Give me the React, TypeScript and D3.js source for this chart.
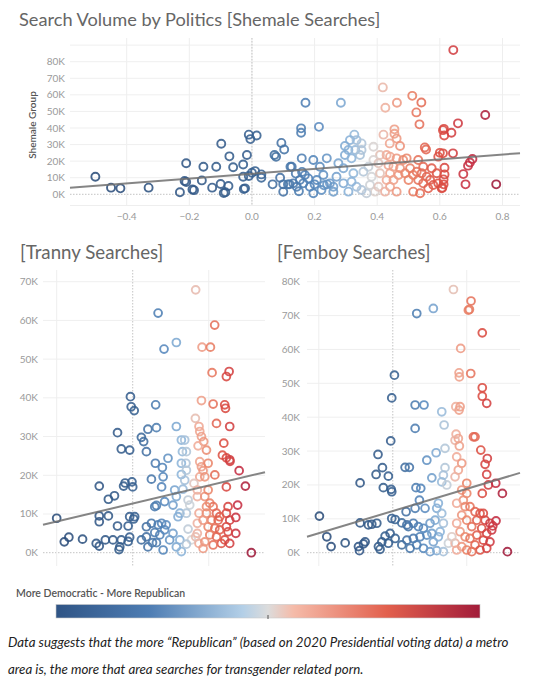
import React from 'react';
import * as d3 from 'd3';

// ---------- DATA ----------
// [partisan lean (x), search volume in thousands (y)]
const shemalePoints: [number, number][] = [
  [-0.50,10.6],[-0.45,4],[-0.42,3.6],[-0.33,4],[-0.21,18.7],[-0.215,8],[-0.21,7.4],[-0.23,1.2],[-0.19,2.9],[-0.185,2.5],
  [-0.16,8.4],[-0.155,16.6],[-0.127,4],[-0.114,16.6],[-0.098,30.5],[-0.1,6.2],[-0.09,0.8],[-0.085,1.2],[-0.072,22.9],[-0.075,5],
  [-0.06,16.3],[-0.028,18],[-0.016,23.7],[-0.028,10.6],[-0.026,3.2],[-0.022,3.6],[-0.01,36],[-0.005,33.3],[0.015,35.5],[0.0,13],
  [0.01,14],[0.03,12],[0.03,10],[-0.01,11],[0.066,6],[0.072,23.7],[0.077,22.6],[0.094,31],[0.103,27],[0.123,16.6],
  [0.09,10],[0.1,6],[0.1,1.5],[0.115,6],[0.12,6],[0.171,55.2],[0.284,55.2],[0.157,39.8],[0.157,37.1],[0.214,40.7],
  [0.643,87],[0.418,64.5],[0.426,52.2],[0.463,55.2],[0.512,59.4],[0.541,55.4],[0.525,49.4],[0.535,42.2],[0.745,47.8],[0.658,42.8],
  [0.613,39.5],[0.61,38.7],[0.614,35.5],[0.637,37.1],[0.42,36],[0.455,39.2],[0.455,36.5],[0.462,33.6],[0.473,29.1],[0.44,30.7],
  [0.552,28.3],[0.556,27],[0.6,25],[0.61,24.7],[0.595,22.7],[0.642,24.7],[0.704,21.3],[0.696,19.2],[0.69,17.3],[0.675,12.2],
  [0.682,6],[0.78,6],[0.615,16],[0.615,12],[0.612,9],[0.612,6],[0.608,4],
  [0.327,36],[0.313,32.7],[0.334,32.7],[0.35,30.7],[0.297,29.1],[0.308,26.7],[0.33,26.7],[0.35,26.7],[0.345,23.7],[0.297,23.7],[0.318,21.7],
  [0.388,28.7],[0.409,23.7],[0.388,20.7],[0.404,18.7],[0.372,16.6],[0.356,13.6],[0.382,10.6],[0.377,5.6],[0.393,1.6],[0.366,0.6],
  [0.43,23.7],[0.441,22.7],[0.462,21.7],[0.483,20.7],[0.494,21.7],[0.436,17.6],[0.452,16.6],[0.473,15.7],[0.441,12.7],[0.468,11.6],
  [0.489,12.7],[0.43,8.6],[0.452,8.6],[0.441,4.6],[0.462,1.6],[0.409,12.7],[0.404,4.6],[0.425,1.6],
  [0.505,15.7],[0.526,13.6],[0.542,12.7],[0.558,10.6],[0.569,8.6],[0.531,8.6],[0.547,6.6],[0.579,5.6],[0.563,3.6],[0.515,1.6],
  [0.537,0.6],[0.59,12.7],[0.595,6.6],[0.606,3.6],[0.515,11.6],[0.5,8.6],[0.547,16.6],[0.574,15.7],[0.531,20.7],
  [0.127,16.6],[0.159,21.7],[0.169,11.6],[0.153,8.6],[0.143,4.6],[0.185,4.6],[0.196,20.7],[0.217,16.6],[0.228,11.6],[0.239,21.7],
  [0.249,6.6],[0.26,4.6],[0.222,2.6],[0.196,0.6],[0.276,18.7],[0.27,10.6],[0.292,6.6],[0.308,1.6],[0.324,12.7],[0.334,4.6],
  [0.35,2.6],[0.318,7.6],[0.132,6.6],[0.164,6.6],[0.18,9.6],[0.207,8.6],[0.292,15.7],[0.14,12.5],[0.16,13.5],[0.15,1.8],
  [0.24,6],[0.2,6],[0.23,5.5],[0.26,1.5],
];

const trannyPoints: [number, number][] = [
  [-0.50,8.9],[-0.45,2.8],[-0.42,4],[-0.33,3.5],[-0.22,17.2],[-0.22,9.5],[-0.22,8],[-0.24,2.4],[-0.22,1.7],[-0.18,3.3],
  [-0.13,3.3],[-0.16,9.5],[-0.16,13.8],[-0.12,14.7],[-0.10,31],[-0.075,26.8],[-0.02,26.5],[-0.06,17.2],[-0.05,18],[-0.005,18.3],
  [0.0,17],[-0.1,6.9],[-0.085,1.5],[-0.09,0.8],[-0.075,3.3],[-0.03,6.9],[-0.02,9.3],[-0.02,4],[-0.03,2.9],[-0.015,40.3],
  [-0.01,37.7],[0.01,36.7],[0.013,9.3],[0.006,8.7],
  [0.057,29.8],[0.072,28.7],[0.1,31.9],[0.09,26.1],[0.057,3.3],[0.09,4.1],[0.123,7.6],[0.09,6.7],[0.123,19],[0.1,1.5],
  [0.151,38.2],[0.156,32.3],[0.167,61.9],[0.149,23.1],[0.145,11.9],[0.156,12.2],[0.145,5.2],[0.156,2.6],[0.13,2.6],[0.19,17],
  [0.2,19.6],[0.195,22],[0.206,52.6],[0.232,24.4],[0.21,13.2],[0.19,7.6],[0.22,7.2],[0.178,4.6],[0.21,5.9],[0.243,3.3],
  [0.2,0.7],[0.167,7.2],
  [0.287,32.6],[0.287,54.3],[0.265,12.3],[0.276,16.2],[0.287,14.5],[0.298,9.3],[0.31,10.2],[0.287,1.5],[0.32,0.3],[0.265,5],
  [0.31,3.3],[0.32,29.1],[0.327,26.1],[0.32,23.1],[0.32,20.2],[0.342,29.1],[0.353,26.1],[0.35,23.1],[0.353,21.3],[0.342,18.7],
  [0.33,16.4],[0.364,13.6],[0.375,12.3],[0.353,10.2],[0.364,6.1],[0.386,3.3],[0.353,2.2],
  [0.414,67.9],[0.412,34.7],[0.436,32.6],[0.441,31.3],[0.452,30],[0.467,28.7],[0.452,39.3],[0.456,53.1],[0.511,53.1],[0.43,27.6],
  [0.441,23.5],[0.452,22.2],[0.463,21.2],[0.441,19.6],[0.474,19.6],[0.403,17.9],[0.425,16.2],[0.425,14.5],[0.436,10.2],[0.425,7.6],
  [0.425,5],[0.436,2.4],[0.414,4.1],[0.485,26.5],[0.496,23.1],
  [0.539,58.8],[0.522,46.5],[0.529,38.4],[0.551,33.4],[0.605,38.2],[0.61,37.3],[0.616,45.5],[0.634,46.8],[0.638,32.6],[0.599,28.3],
  [0.59,25.2],[0.616,24.5],[0.638,24],[0.64,23.6],[0.54,20.1],[0.616,17],[0.7,21.2],[0.741,17.2],[0.69,12.3],[0.678,9.1],
  [0.678,5],[0.78,0],[0.627,11.9],[0.616,10.2],[0.638,8.4],[0.616,6.7],[0.627,5.4],[0.605,3.3],[0.583,2.4],[0.638,2.4],
  [0.474,14.5],[0.496,16.2],[0.507,12.8],[0.529,11.9],[0.551,10.2],[0.485,10.2],[0.518,8.4],[0.562,8.4],[0.496,6.7],[0.54,6.3],
  [0.572,5.9],[0.507,4.6],[0.551,4.1],[0.474,2.8],[0.529,2],[0.463,1.1],[0.572,9.3],[0.463,8.4],[0.485,11.9],
];

const femboyPoints: [number, number][] = [
  [-0.496,10.8],[-0.446,4.7],[-0.417,1.8],[-0.322,2.9],[-0.221,20.6],[-0.221,8.8],[-0.165,8.2],[-0.142,8.4],[-0.108,8.7],[-0.232,1.8],
  [-0.225,0.6],[-0.187,3.2],[-0.198,2.6],[-0.1,29],[-0.07,25.1],[-0.113,23.1],[-0.03,22.6],[-0.064,19.2],[-0.014,33],[-0.007,45.7],
  [0.011,52.4],[-0.011,18.7],[-0.007,18],[-0.097,1.8],[-0.086,1],[-0.074,3.2],[-0.052,4.9],[-0.018,5.7],[-0.03,2.8],[0.016,4.2],
  [-0.007,10.1],[0.016,9.8],[0.061,8.8],[0.095,8.2],[0.061,2.3],
  [0.083,25.2],[0.112,25.2],[0.09,12.1],[0.151,36.7],[0.151,43.6],[0.211,43.6],[0.162,70.6],[0.157,19.2],[0.189,19],[0.18,15.5],
  [0.151,13.1],[0.218,13.1],[0.23,27.3],[0.274,72.1],[0.293,29.5],[0.264,22.1],[0.331,41.6],[0.347,37.7],[0.353,30.8],[0.353,25.1],
  [0.342,22.9],[0.331,20.9],[0.365,20],
  [0.105,7.7],[0.139,8.7],[0.173,7.7],[0.207,7.2],[0.252,8.7],[0.286,9.6],[0.297,13.1],[0.308,14.6],[0.331,11.6],[0.342,8.7],
  [0.23,5.2],[0.184,4.7],[0.139,4.2],[0.095,3.7],[0.274,3.2],[0.308,4.7],[0.207,1.3],[0.252,0.3],[0.297,0.6],[0.162,2.3],
  [0.117,1.3],[0.342,0.3],[0.376,2.8],[0.32,6.2],[0.264,5.7],
  [0.41,77.7],[0.459,60.3],[0.448,53.1],[0.45,51.9],[0.426,43.1],[0.455,43.1],[0.448,42.1],[0.428,35],[0.443,33.7],[0.421,33.2],
  [0.45,31.5],[0.432,28.3],[0.466,26.4],[0.443,24.4],[0.421,22.4],[0.5,20.5],[0.466,18.5],[0.5,17.5],[0.477,15.5],[0.432,14.6],
  [0.489,13.6],[0.466,11.1],[0.5,9.6],[0.432,8.7],[0.455,6.2],[0.489,4.7],[0.421,2.8],[0.466,1.8],[0.5,0.8],[0.399,4.7],
  [0.432,0.8],
  [0.529,74.3],[0.518,71.8],[0.511,71.6],[0.605,64.9],[0.527,52.9],[0.605,48.7],[0.605,46.2],[0.635,44.1],[0.545,34.2],[0.556,34.2],
  [0.595,30.3],[0.639,27.8],[0.624,26.1],[0.635,23.1],[0.646,20],[0.605,17.5],[0.696,20.5],[0.741,17.5],[0.698,9.4],[0.676,7.9],
  [0.669,6.7],[0.775,0.3],
  [0.522,13.6],[0.556,12.1],[0.59,11.6],[0.624,9.6],[0.568,9.6],[0.534,7.7],[0.601,7.2],[0.635,5.7],[0.568,5.2],[0.522,4.2],
  [0.612,3.7],[0.657,3.2],[0.556,2.3],[0.59,0.8],[0.635,1.3],[0.534,0.3],[0.657,8.7],[0.612,11.6],
];

// trend lines: value(K) = intercept + slope * lean
const trendIntercepts = [12.4, 12.7, 12.3];
const trendSlopes = [14.5, 9.3, 13.1];

const topXTicks = [-0.4, -0.2, 0.0, 0.2, 0.4, 0.6, 0.8];
const topYTicks = [0, 10, 20, 30, 40, 50, 60, 70, 80];
const trannyYTicks = [0, 10, 20, 30, 40, 50, 60, 70];
const femboyYTicks = [0, 10, 20, 30, 40, 50, 60, 70, 80];
const smallXGrid = [-0.5, 0.5];

const titles = ['Search Volume by Politics [Shemale Searches]', '[Tranny Searches]', '[Femboy Searches]'];
const yAxisTitle = 'Shemale Group';
const legendTitle = 'More Democratic - More Republican';
const captionLines = [
  'Data suggests that the more \u201CRepublican\u201D (based on 2020 Presidential voting data) a metro',
  'area is, the more that area searches for transgender related porn.',
];

// ---------- STYLE ----------
const FONT = 'Lato, "Open Sans", sans-serif';
const colorDomain = [-0.5, 0.0, 0.2, 0.32, 0.385, 0.43, 0.5, 0.6, 0.7, 0.78];
const colorRange = ['#2b4d7a', '#37608f', '#5486bb', '#8db5da', '#d6d6d6', '#f0ac99', '#ea8468', '#dc4e42', '#c42c42', '#9e1a3a'];
const color = d3.scaleLinear<string>().domain(colorDomain).range(colorRange).clamp(true);

type PanelProps = {
  points: [number, number][];
  x: d3.ScaleLinear<number, number>;
  y: d3.ScaleLinear<number, number>;
  yTicks: number[];
  xGrid: number[];
  gridTop: number;
  gridBottom: number;
  labelX: number;
  r: number;
  trendIdx: number;
};

function Panel({ points, x, y, yTicks, xGrid, gridTop, gridBottom, labelX, r, trendIdx }: PanelProps) {
  const [x0, x1] = x.range();
  const [d0, d1] = x.domain();
  const line = d3.line<number>().x((v) => x(v)).y((v) => y(trendIntercepts[trendIdx] + trendSlopes[trendIdx] * v));
  return (
    <g>
      {yTicks.map((t) => (
        <line key={'h' + t} x1={x0} x2={x1} y1={y(t)} y2={y(t)}
          stroke={t === 0 ? '#c4c4c4' : '#efefef'} strokeWidth={1}
          strokeDasharray={t === 0 ? '1.5,1.5' : undefined} />
      ))}
      {xGrid.map((t) => (
        <line key={'v' + t} x1={x(t)} x2={x(t)} y1={gridTop} y2={gridBottom} stroke="#eeeeee" strokeWidth={1} />
      ))}
      <line x1={x(0)} x2={x(0)} y1={gridTop} y2={gridBottom} stroke="#c4c4c4" strokeWidth={1} strokeDasharray="1.5,1.5" />
      {yTicks.map((t) => (
        <text key={'l' + t} x={labelX} y={y(t)} dy="0.35em" textAnchor="end" fontSize={10}
          fill="#9a9a9a" fontFamily={FONT}>{t + 'K'}</text>
      ))}
      {points.map(([lean, vol], i) => (
        <circle key={i} cx={x(lean)} cy={y(vol)} r={r} fill="none" stroke={color(lean)}
          strokeWidth={1.9} strokeOpacity={0.88} />
      ))}
      <path d={line([d0, d1]) || ''} stroke="#707070" strokeOpacity={0.85} strokeWidth={2} fill="none" />
    </g>
  );
}

export default function App() {
  const xTop = d3.scaleLinear().domain([-0.581, 0.856]).range([70, 520]);
  const yTop = d3.scaleLinear().domain([0, 80]).range([194.3, 61.7]);
  const xL = d3.scaleLinear().domain([-0.59, 0.87]).range([43, 265]);
  const yL = d3.scaleLinear().domain([0, 70]).range([552.7, 281.7]);
  const xR = d3.scaleLinear().domain([-0.58, 0.86]).range([307, 520]);
  const yR = d3.scaleLinear().domain([0, 80]).range([552.7, 281.7]);

  return (
    <div style={{ position: 'absolute', left: 0, top: 0 }}>
      <svg width={540} height={688} style={{ display: 'block', background: '#fff' }}>
        <defs>
          <linearGradient id="legendGrad" x1="0" x2="1" y1="0" y2="0">
            <stop offset="0" stopColor="#2f5485" />
            <stop offset="0.22" stopColor="#4e7db3" />
            <stop offset="0.44" stopColor="#b3cfe7" />
            <stop offset="0.5" stopColor="#dcdcdc" />
            <stop offset="0.56" stopColor="#f5bba9" />
            <stop offset="0.78" stopColor="#e2604d" />
            <stop offset="1" stopColor="#a21c3a" />
          </linearGradient>
        </defs>

        {/* Top chart */}
        <text x={19} y={25.5} fontSize={18.2} fill="#666" fontFamily={FONT}>{titles[0]}</text>
        <text transform="translate(36,125) rotate(-90)" textAnchor="middle" fontSize={10} fontWeight={600}
          fill="#555" fontFamily={FONT}>{yAxisTitle}</text>
        {topXTicks.map((t) => (
          <line key={'tg' + t} x1={xTop(t)} x2={xTop(t)} y1={38} y2={205} stroke="#eeeeee" />
        ))}
        <line x1={70} x2={520} y1={205.5} y2={205.5} stroke="#eeeeee" />
        <line x1={70} x2={520} y1={yTop(90)} y2={yTop(90)} stroke="#efefef" />
        <Panel points={shemalePoints} x={xTop} y={yTop} yTicks={topYTicks} xGrid={[]} gridTop={38} gridBottom={205}
          labelX={65} r={4} trendIdx={0} />
        {topXTicks.map((t) => (
          <text key={'tx' + t} x={xTop(t)} y={220} textAnchor="middle" fontSize={10} fill="#9a9a9a"
            fontFamily={FONT}>{d3.format('.1f')(t)}</text>
        ))}

        {/* Bottom left */}
        <text x={20} y={259} fontSize={18.7} fill="#666" fontFamily={FONT}>{titles[1]}</text>
        <Panel points={trannyPoints} x={xL} y={yL} yTicks={trannyYTicks} xGrid={smallXGrid} gridTop={270} gridBottom={566}
          labelX={38} r={3.9} trendIdx={1} />

        {/* Bottom right */}
        <text x={277} y={259} fontSize={18.7} fill="#666" fontFamily={FONT}>{titles[2]}</text>
        <Panel points={femboyPoints} x={xR} y={yR} yTicks={femboyYTicks} xGrid={smallXGrid} gridTop={270} gridBottom={566}
          labelX={300} r={3.9} trendIdx={2} />

        {/* Legend */}
        <text x={16} y={596.5} fontSize={10.5} fontWeight={600} fill="#555" fontFamily={FONT}>{legendTitle}</text>
        <rect x={56} y={604.5} width={424} height={13.5} fill="url(#legendGrad)" stroke="#c8c8c8" strokeWidth={0.6} />
        <line x1={268} x2={268} y1={615} y2={619} stroke="#555" strokeWidth={1} />

        {/* Caption */}
        {captionLines.map((l, i) => (
          <text key={i} x={8} y={647 + i * 27} fontSize={13.3} fontStyle="italic" fill="#222"
            fontFamily={FONT}>{l}</text>
        ))}
      </svg>
    </div>
  );
}
